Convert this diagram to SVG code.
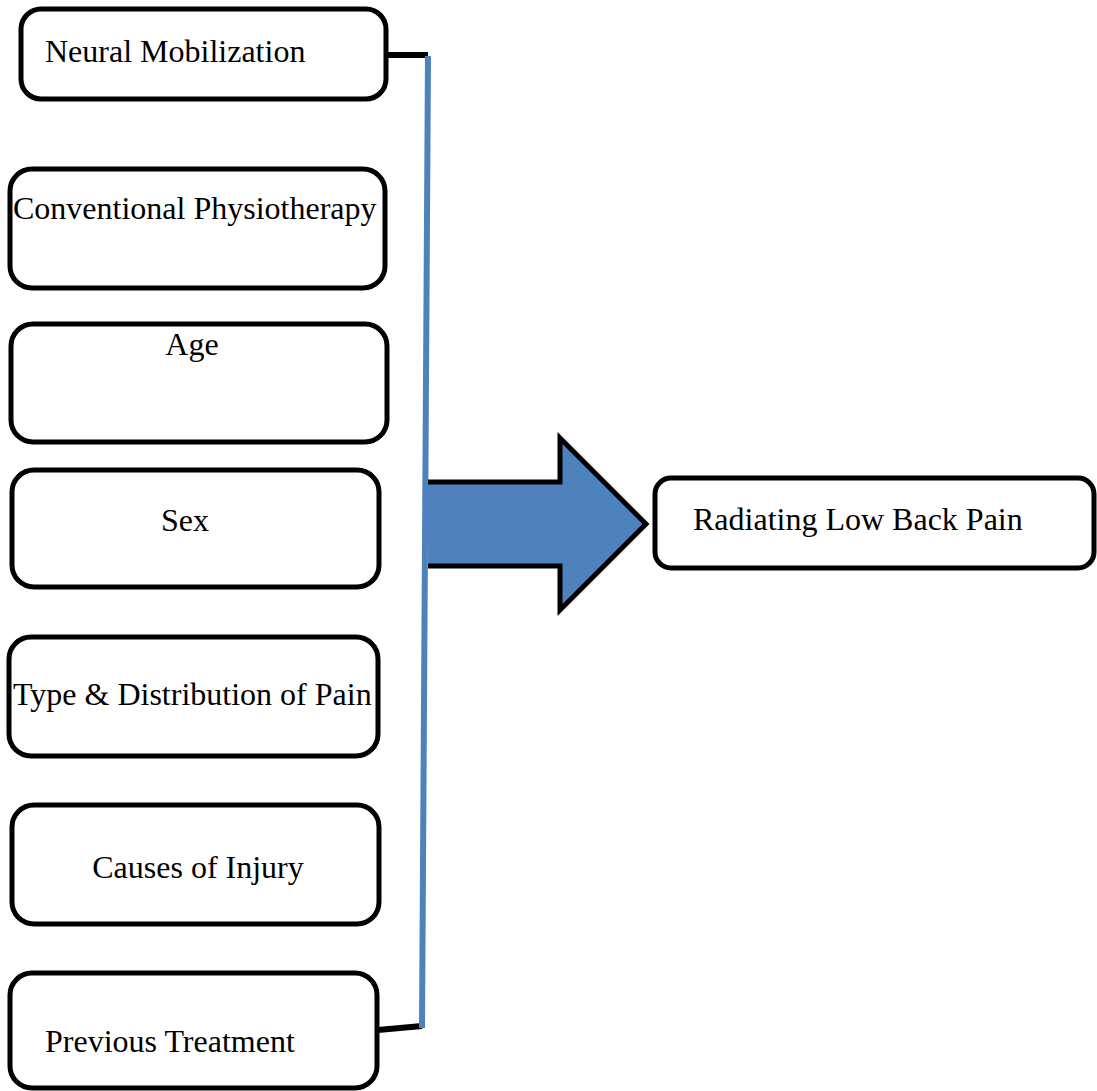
<svg xmlns="http://www.w3.org/2000/svg" width="1097" height="1091" viewBox="0 0 1097 1091">
<style>
.box{fill:#fff;stroke:#000;stroke-width:5}
.t{font-family:"Liberation Serif","Times New Roman",serif;font-size:32px;fill:#000}
.blk{stroke:#000;stroke-width:6;fill:none}
</style>
<rect width="1097" height="1091" fill="#fff"/>
<g id="connectors">
  <line class="blk" x1="387" y1="55" x2="428" y2="55"/>
  <line class="blk" x1="378" y1="1030" x2="422" y2="1026"/>
  <line x1="428" y1="56" x2="422" y2="1028" stroke="#4F81BD" stroke-width="6"/>
  <polygon points="428,482 560,482 560,438 646,524 560,610 560,566 428,566" fill="#4F81BD"/>
  <polyline points="428,482 560,482 560,438 646,524 560,610 560,566 428,566" fill="none" stroke="#000" stroke-width="5" stroke-linejoin="miter"/>
</g>
<g id="n1"><rect class="box" x="21" y="9" width="365" height="90" rx="20"/><text class="t" x="45" y="62">Neural Mobilization</text></g>
<g id="n2"><rect class="box" x="10" y="169" width="375" height="119" rx="22"/><text class="t" x="13" y="219">Conventional Physiotherapy</text></g>
<g id="n3"><rect class="box" x="11" y="324" width="376" height="118" rx="22"/><text class="t" x="192" y="355" text-anchor="middle">Age</text></g>
<g id="n4"><rect class="box" x="12" y="470" width="367" height="117" rx="22"/><text class="t" x="185" y="531" text-anchor="middle">Sex</text></g>
<g id="n5"><rect class="box" x="9" y="637" width="369" height="119" rx="22"/><text class="t" x="13" y="705">Type &amp; Distribution of Pain</text></g>
<g id="n6"><rect class="box" x="12" y="805" width="367" height="119" rx="22"/><text class="t" x="198" y="878" text-anchor="middle">Causes of Injury</text></g>
<g id="n7"><rect class="box" x="10" y="973" width="367" height="115" rx="22"/><text class="t" x="45" y="1052">Previous Treatment</text></g>
<g id="n8"><rect class="box" x="655" y="478" width="439" height="90" rx="16"/><text class="t" x="693" y="530">Radiating Low Back Pain</text></g>
</svg>
